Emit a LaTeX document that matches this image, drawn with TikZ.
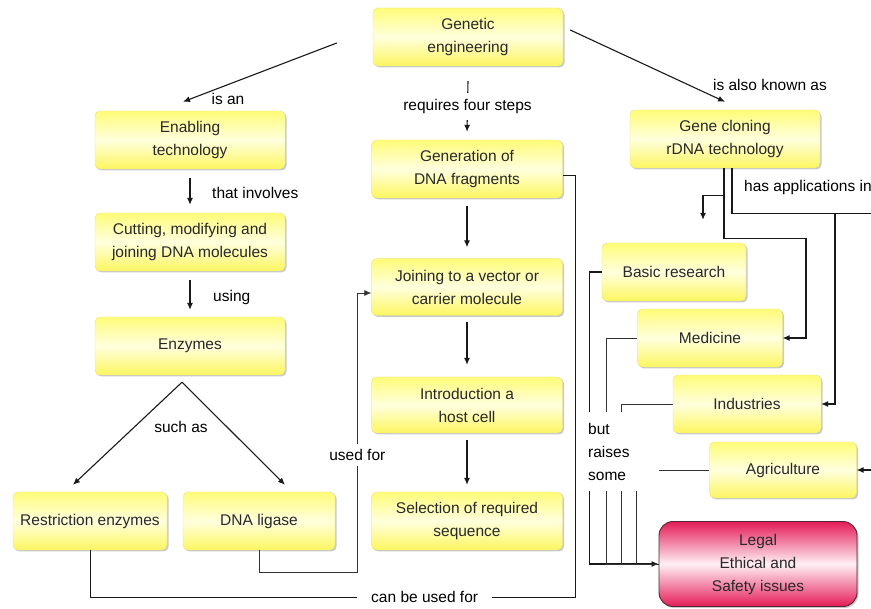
\documentclass[tikz,border=0pt]{standalone}
\usepackage{fontspec}
\setmainfont{Liberation Sans}
\usetikzlibrary{arrows.meta,calc,shadows}
\definecolor{ytop}{RGB}{255,252,120}
\definecolor{ymid}{RGB}{255,255,222}
\definecolor{ybot}{RGB}{252,246,96}
\definecolor{yedge}{RGB}{232,225,130}
\definecolor{lred}{RGB}{228,28,88}
\definecolor{lpink}{RGB}{255,240,245}
\definecolor{ledge}{RGB}{80,40,50}
\definecolor{txt}{RGB}{40,40,40}
\begin{document}
\begin{tikzpicture}[x=1pt,y=-1pt,
  every node/.style={font=\fontsize{15.5}{23}\selectfont, text=txt},
  ybox/.style={rounded corners=5pt, draw=yedge, top color=ytop, bottom color=ybot, middle color=ymid,
    align=center, inner sep=0pt, minimum width=190pt, minimum height=58pt,
    drop shadow={shadow xshift=1.5pt, shadow yshift=-1.5pt, fill=black!35, opacity=0.6}},
  rbox/.style={rounded corners=14pt, draw=ledge, line width=0.9pt, top color=lred, bottom color=lred, middle color=lpink,
    align=center, inner sep=0pt, minimum width=198pt, minimum height=85pt,
    drop shadow={shadow xshift=1.5pt, shadow yshift=-1.5pt, fill=black!35, opacity=0.6}},
  lbl/.style={text=black, inner sep=1pt},
  arr/.style={draw=black!90, line width=1.1pt, -{Latex[length=7pt,width=6pt]}},
  conn/.style={draw=black!90, line width=1pt},
  thinc/.style={draw=black!80, line width=0.7pt},
]
\fill[white] (0,0) rectangle (871,609);
\useasboundingbox (0,0) rectangle (871,609);

% boxes
\node[ybox] (gen) at (468,37) {Genetic\\engineering};
\node[ybox] (enab) at (190,140) {Enabling\\technology};
\node[ybox] (cut) at (190,242) {Cutting, modifying and\\joining DNA molecules};
\node[ybox] (enz) at (190,346) {Enzymes};
\node[ybox, minimum width=154pt] (restr) at (90,521) {Restriction enzymes};
\node[ybox, minimum width=152pt] (lig) at (259,521) {DNA ligase};
\node[ybox, minimum width=191pt] (frag) at (467,169) {Generation of\\DNA fragments};
\node[ybox, minimum width=191pt, minimum height=57pt] (join) at (467,287) {Joining to a vector or\\carrier molecule};
\node[ybox, minimum width=191pt, minimum height=56pt] (intro) at (467,405) {Introduction a\\host cell};
\node[ybox, minimum width=191pt] (sel) at (467,521) {Selection of required\\sequence};
\node[ybox] (clon) at (725,139) {Gene cloning\\rDNA technology};
\node[ybox, minimum width=144pt] (basic) at (674,272) {Basic research};
\node[ybox, minimum width=145pt] (med) at (710,338) {Medicine};
\node[ybox, minimum width=148pt] (ind) at (747,404) {Industries};
\node[ybox, minimum width=147pt, minimum height=56pt] (agr) at (783,470) {Agriculture};
\node[rbox] (legal) at (758,564) {Legal\\Ethical and\\Safety issues};

% connectors from Genetic engineering
\draw[arr] ($(gen.west)+(-36,6)$) -- ($(enab.north)+(-7,-9)$);
\node[lbl] (isan) at (228,99) {is an};
\draw[arr] ($(gen.east)+(7,-7)$) -- ($(clon.north)+(0,-8)$);
\node[lbl] (aka) at (770,85) {is also known as};
\draw[arr] ($(gen.south)+(0,15)$) -- node[lbl, fill=white, inner sep=6pt] (req) {requires four steps} ($(frag.north)+(0,-8)$);

% left column
\draw[arr] ($(enab.south)+(0,9)$) -- ($(cut.north)+(0,-8)$);
\node[lbl, anchor=west] (inv) at (211,193) {that involves};
\draw[arr] ($(cut.south)+(0,9)$) -- ($(enz.north)+(0,-7)$);
\node[lbl, anchor=west] (using) at (212,297) {using};
\draw[arr] ($(enz.south)+(-8,7)$) -- ($(restr.north)+(-17,-7)$);
\draw[arr] ($(enz.south)+(-8,7)$) -- ($(lig.north)+(26,-7)$);
\node[lbl] (such) at (181,427) {such as};

% middle column
\draw[arr] ($(frag.south)+(0,8)$) -- ($(join.north)+(0,-11)$);
\draw[arr] ($(join.south)+(0,6)$) -- ($(intro.north)+(0,-12)$);
\draw[arr] ($(intro.south)+(0,7)$) -- ($(sel.north)+(0,-7)$);

% used for
\draw[thinc, -{Latex[length=7pt,width=6pt]}] (lig.south) -- ++(0,22) -| ($(join.west)+(-14,6)$)
  node[pos=0.71, lbl, fill=white, inner xsep=2pt, inner ysep=5pt] (usedfor) {used for}
  -- ($(join.west)+(0,6)$);
% can be used for
\draw[conn] (restr.south) -- ++(0,47) -- node[pos=0.69, lbl, fill=white, inner xsep=14pt, inner ysep=4pt] (canbe) {can be used for} ++(485,0) |- ($(frag.east)+(0,7)$);

% applications
\draw[arr] ($(clon.south)+(-1,0)$) -- ++(0,27) -| ($(basic.north)+(29,-23)$);
\draw[arr] ($(clon.south)+(-1,0)$) -- ++(0,70) -- ++(82,0) |- (med.east);
\draw[arr] ($(clon.south)+(7,0)$) -- ++(0,45) -- ++(103,0) |- (ind.east);
\draw[arr] ($(clon.south)+(7,0)$) -- ++(0,45) -- ++(160,0) |- (agr.east);
\node[lbl, anchor=west] (apps) at (743,187) {has applications in};

% but raises some
\draw[arr] (basic.west) -- ++(-12,0) |- (legal.west);
\draw[thinc] (med.west) -- ++(-31,0) |- (legal.west);
\draw[thinc] (ind.west) -- ++(-51,0) |- (legal.west);
\draw[thinc] (agr.west) -- ++(-73,0) |- (legal.west);
\node[lbl, fill=white, anchor=west, align=left, text width=68pt, inner xsep=3pt, inner ysep=0pt, minimum height=79pt] (raises) at (585,452) {but\\raises\\some};
\end{tikzpicture}
\end{document}
